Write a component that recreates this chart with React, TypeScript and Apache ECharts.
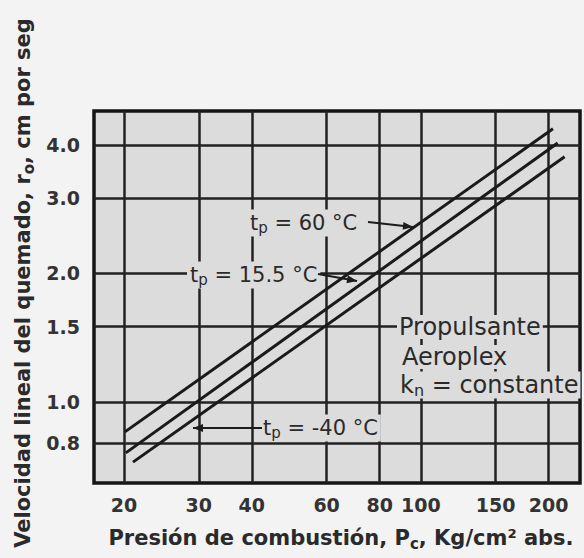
import React, { useEffect, useRef } from 'react';
import * as echarts from 'echarts';

// Axis ticks (log-log paper)
const xTicks = [20, 30, 40, 60, 80, 100, 150, 200];
const yTicks = [0.8, 1.0, 1.5, 2.0, 3.0, 4.0];

// Series: burning rate r0 (cm/s) vs combustion pressure Pc (kg/cm² abs)
const seriesNames = ['tp = 60 °C', 'tp = 15.5 °C', 'tp = -40 °C'];
const pressure60 = [20.1, 204.7];
const rate60 = [0.851, 4.36];
const pressure155 = [20.2, 210];
const rate155 = [0.76, 4.04];
const pressureM40 = [21.0, 218];
const rateM40 = [0.723, 3.75];

const FONT = 'DejaVu Sans';
const INK = '#2a2a2a';
const PLOT_BG = '#dcdcdc';
const PAGE_BG = '#f3f3f3';

const zip = (xs: number[], ys: number[]) => xs.map((x, i) => [x, ys[i]]);

const txt = (size: number, weight: string = 'normal') => ({
  fontFamily: FONT,
  fontSize: size,
  fontWeight: weight,
  fill: INK,
});

function tpLabel(x: number, y: number, rest: string) {
  return {
    type: 'text',
    x,
    y,
    z: 5,
    style: {
      text: '{a|t}{s|p}{a|' + rest + '}',
      verticalAlign: 'middle',
      backgroundColor: PLOT_BG,
      padding: [1, 3, 1, 3],
      rich: {
        a: { ...txt(21), lineHeight: 25, verticalAlign: 'middle' },
        s: { ...txt(15), lineHeight: 16, verticalAlign: 'bottom' },
      },
    },
  };
}

function arrowHead(tipX: number, tipY: number, fromX: number, fromY: number) {
  const dx = tipX - fromX;
  const dy = tipY - fromY;
  const len = Math.sqrt(dx * dx + dy * dy);
  const ux = dx / len;
  const uy = dy / len;
  const L = 10;
  const W = 4;
  const bx = tipX - ux * L;
  const by = tipY - uy * L;
  return {
    type: 'polygon',
    z: 6,
    shape: {
      points: [
        [tipX, tipY],
        [bx - uy * W, by + ux * W],
        [bx + uy * W, by - ux * W],
      ],
    },
    style: { fill: '#1c1c1c' },
  };
}

function pointer(x1: number, y1: number, x2: number, y2: number) {
  return [
    {
      type: 'line',
      z: 6,
      shape: { x1, y1, x2, y2 },
      style: { stroke: '#1c1c1c', lineWidth: 2 },
    },
    arrowHead(x2, y2, x1, y1),
  ];
}

export default function App() {
  const ref = useRef<HTMLDivElement>(null);

  useEffect(() => {
    document.body.style.margin = '0';
    const chart = echarts.init(ref.current!, null, { renderer: 'svg' });

    const lineStyle = { color: '#1a1a1a', width: 3 };
    const option: any = {
      animation: false,
      backgroundColor: PAGE_BG,
      grid: {
        left: 94,
        right: 4,
        top: 111,
        bottom: 75,
        show: true,
        backgroundColor: PLOT_BG,
        borderColor: '#151515',
        borderWidth: 3.5,
      },
      xAxis: {
        type: 'log',
        logBase: 10,
        min: 17,
        max: 237,
        axisLine: { show: false },
        axisTick: { show: false, customValues: xTicks },
        axisLabel: {
          customValues: xTicks,
          margin: 12,
          fontFamily: FONT,
          fontSize: 19,
          fontWeight: 'bold',
          color: '#333',
          formatter: (v: number) => String(Math.round(v)),
        },
        splitLine: { show: true, lineStyle: { color: '#222', width: 2.5 } },
        minorTick: { show: false },
        minorSplitLine: { show: false },
      },
      yAxis: {
        type: 'log',
        logBase: 10,
        min: 0.646,
        max: 4.8,
        axisLine: { show: false },
        axisTick: { show: false, customValues: yTicks },
        axisLabel: {
          customValues: yTicks,
          margin: 14,
          fontFamily: FONT,
          fontSize: 19,
          fontWeight: 'bold',
          color: '#333',
          formatter: (v: number) => Number(v).toFixed(1),
        },
        splitLine: { show: true, lineStyle: { color: '#222', width: 2.5 } },
        minorTick: { show: false },
        minorSplitLine: { show: false },
      },
      series: [
        { type: 'line', name: seriesNames[0], data: zip(pressure60, rate60), symbol: 'none', lineStyle, z: 8 },
        { type: 'line', name: seriesNames[1], data: zip(pressure155, rate155), symbol: 'none', lineStyle, z: 8 },
        { type: 'line', name: seriesNames[2], data: zip(pressureM40, rateM40), symbol: 'none', lineStyle, z: 8 },
      ],
      graphic: [
        // Y axis title
        {
          type: 'text',
          x: 23,
          y: 283,
          rotation: Math.PI / 2,
          style: {
            text: '{a|Velocidad lineal del quemado, r}{s|o}{a|, cm por seg}',
            align: 'center',
            verticalAlign: 'middle',
            rich: {
              a: { ...txt(21, 'bold'), lineHeight: 26, verticalAlign: 'middle' },
              s: { ...txt(15, 'bold'), lineHeight: 17, verticalAlign: 'bottom' },
            },
          },
        },
        // X axis title
        {
          type: 'text',
          x: 341,
          y: 538,
          style: {
            text: '{a|Presión de combustión, P}{s|c}{a|, Kg/cm² abs.}',
            align: 'center',
            verticalAlign: 'middle',
            rich: {
              a: { ...txt(21, 'bold'), lineHeight: 26, verticalAlign: 'middle' },
              s: { ...txt(15, 'bold'), lineHeight: 17, verticalAlign: 'bottom' },
            },
          },
        },
        tpLabel(247, 223, ' = 60 °C'),
        ...pointer(368, 222, 413, 227),
        tpLabel(187, 275, ' = 15.5 °C'),
        ...pointer(318, 274, 357, 281),
        tpLabel(260, 428, ' = -40 °C'),
        ...pointer(262, 428, 193, 428),
        {
          type: 'text',
          x: 397,
          y: 327,
          z: 5,
          style: {
            text: 'Propulsante',
            ...txt(24),
            verticalAlign: 'middle',
            backgroundColor: PLOT_BG,
            padding: [0, 2, 0, 2],
          },
        },
        {
          type: 'text',
          x: 400,
          y: 357,
          z: 5,
          style: {
            text: 'Aeroplex',
            ...txt(24),
            verticalAlign: 'middle',
            backgroundColor: PLOT_BG,
            padding: [0, 2, 0, 2],
          },
        },
        {
          type: 'text',
          x: 398,
          y: 385,
          z: 5,
          style: {
            text: '{a|k}{s|n}{a| = constante}',
            verticalAlign: 'middle',
            backgroundColor: PLOT_BG,
            padding: [0, 2, 0, 2],
            rich: {
              a: { ...txt(24), lineHeight: 27, verticalAlign: 'middle' },
              s: { ...txt(16), lineHeight: 18, verticalAlign: 'bottom' },
            },
          },
        },
      ],
    };

    chart.setOption(option);
    return () => chart.dispose();
  }, []);

  return <div ref={ref} style={{ width: 584, height: 558 }} />;
}
